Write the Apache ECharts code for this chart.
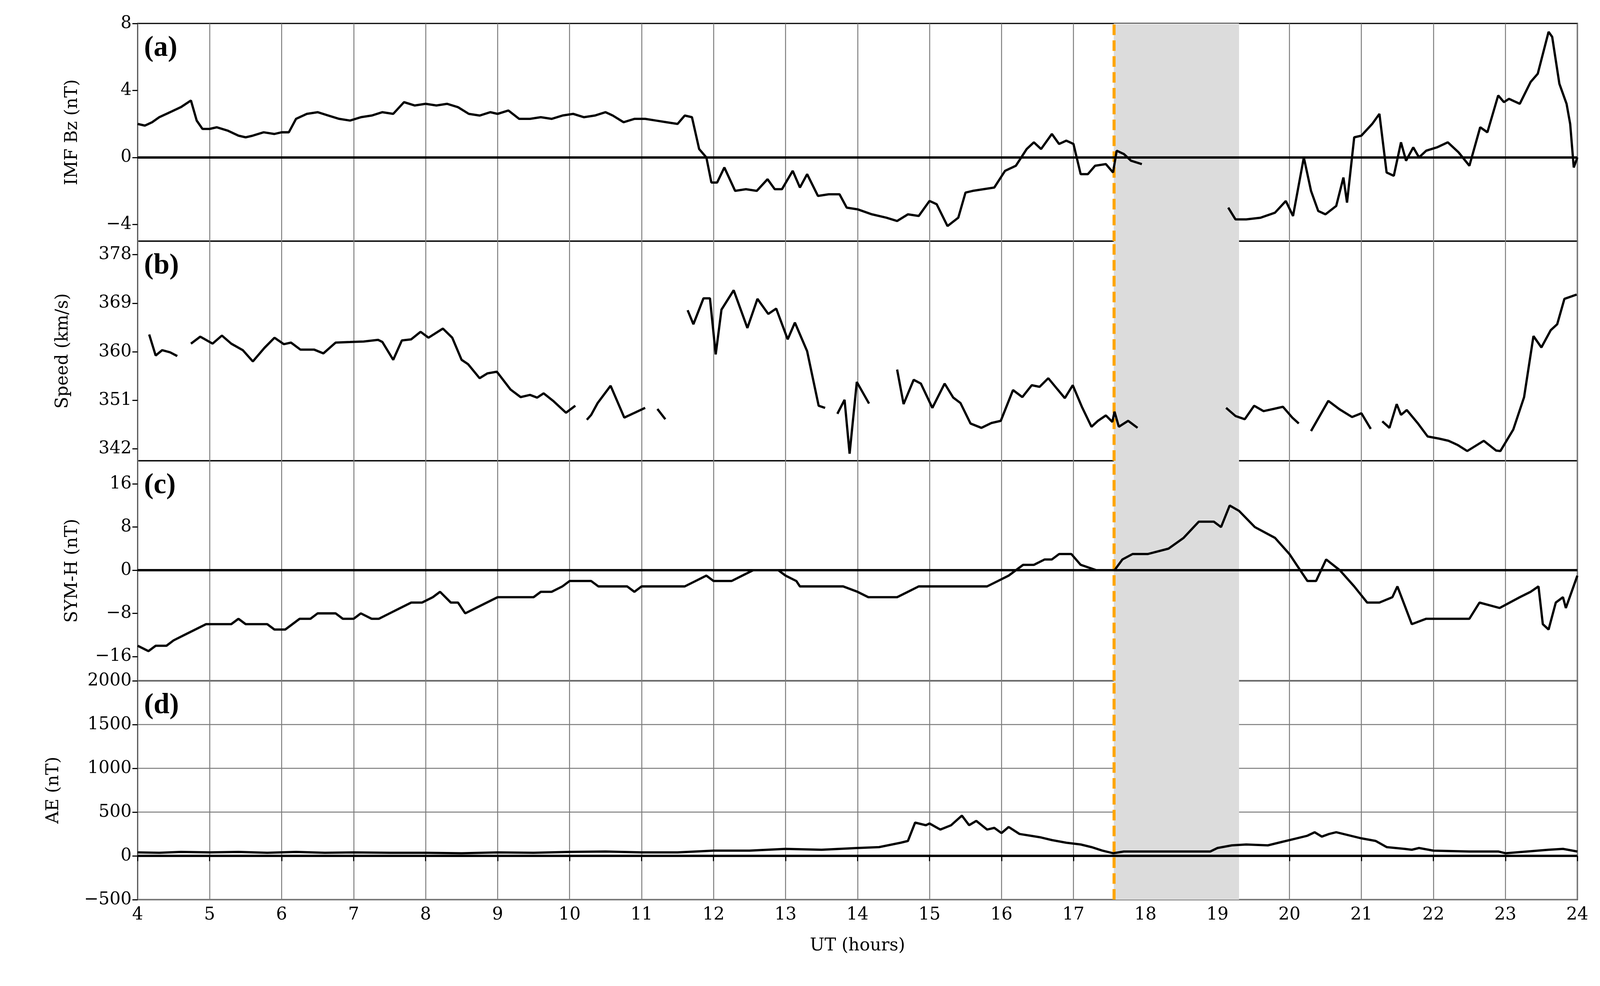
<!DOCTYPE html>
<html><head><meta charset="utf-8">
<script src="https://cdn.jsdelivr.net/npm/echarts@6/dist/echarts.min.js"></script>
<style>html,body{margin:0;padding:0;background:#fff;overflow:hidden}#c{width:100vw;height:100vh}</style>
</head><body><div id="c"></div>
<script>
// ---- data (hours UT, null = data gap) ----
const bzT = [4.0,4.1,4.2,4.3,4.45,4.6,4.74,4.82,4.9,5.0,5.1,5.25,5.4,5.5,5.6,5.75,5.9,6.0,6.1,6.2,6.35,6.5,6.65,6.8,6.95,7.1,7.25,7.4,7.55,7.7,7.85,8.0,8.15,8.3,8.45,8.6,8.75,8.9,9.0,9.15,9.3,9.45,9.6,9.75,9.9,10.05,10.2,10.35,10.5,10.6,10.75,10.9,11.05,11.2,11.35,11.5,11.6,11.7,11.8,11.9,11.97,12.05,12.15,12.3,12.45,12.6,12.75,12.85,12.95,13.1,13.2,13.3,13.45,13.6,13.75,13.85,14.0,14.2,14.4,14.55,14.7,14.85,15.0,15.1,15.25,15.4,15.5,15.6,15.75,15.9,16.05,16.2,16.35,16.45,16.55,16.7,16.8,16.9,17.0,17.1,17.2,17.3,17.45,17.55,17.6,17.7,17.8,17.95,18.0,
19.15,19.25,19.4,19.6,19.8,19.95,20.05,20.2,20.3,20.4,20.5,20.65,20.75,20.8,20.9,21.0,21.15,21.25,21.35,21.45,21.55,21.62,21.72,21.8,21.9,22.05,22.2,22.35,22.5,22.65,22.75,22.9,22.98,23.05,23.2,23.35,23.45,23.6,23.65,23.75,23.85,23.9,23.95,24.0];
const bzV = [2.0,1.9,2.1,2.4,2.7,3.0,3.4,2.2,1.7,1.7,1.8,1.6,1.3,1.2,1.3,1.5,1.4,1.5,1.5,2.3,2.6,2.7,2.5,2.3,2.2,2.4,2.5,2.7,2.6,3.3,3.1,3.2,3.1,3.2,3.0,2.6,2.5,2.7,2.6,2.8,2.3,2.3,2.4,2.3,2.5,2.6,2.4,2.5,2.7,2.5,2.1,2.3,2.3,2.2,2.1,2.0,2.5,2.4,0.5,0.0,-1.5,-1.5,-0.6,-2.0,-1.9,-2.0,-1.3,-1.9,-1.9,-0.8,-1.8,-1.0,-2.3,-2.2,-2.2,-3.0,-3.1,-3.4,-3.6,-3.8,-3.4,-3.5,-2.6,-2.8,-4.1,-3.6,-2.1,-2.0,-1.9,-1.8,-0.8,-0.5,0.5,0.9,0.5,1.4,0.8,1.0,0.8,-1.0,-1.0,-0.5,-0.4,-0.9,0.4,0.2,-0.2,-0.4,null,
-3.0,-3.7,-3.7,-3.6,-3.3,-2.6,-3.5,0.0,-2.0,-3.2,-3.4,-2.9,-1.2,-2.7,1.2,1.3,2.0,2.6,-0.9,-1.1,0.9,-0.2,0.6,0.0,0.4,0.6,0.9,0.3,-0.5,1.8,1.5,3.7,3.3,3.5,3.2,4.5,5.0,7.5,7.2,4.4,3.2,2.0,-0.6,0.0];

const vT = [4.16,4.25,4.34,4.45,4.55,4.65,4.74,4.87,5.04,5.17,5.3,5.46,5.6,5.76,5.9,6.03,6.13,6.26,6.45,6.58,6.75,6.95,7.14,7.34,7.4,7.55,7.67,7.8,7.93,8.04,8.24,8.37,8.5,8.59,8.75,8.86,8.99,9.18,9.32,9.45,9.55,9.64,9.78,9.95,10.08,10.16,
10.24,10.3,10.39,10.57,10.76,10.89,11.05,11.13,11.22,11.33,11.5,
11.64,11.72,11.86,11.95,12.03,12.11,12.28,12.47,12.61,12.76,12.87,13.03,13.13,13.3,13.46,13.55,13.63,
13.72,13.82,13.89,13.99,14.16,14.35,
14.55,14.64,14.78,14.88,15.04,15.21,15.33,15.43,15.57,15.72,15.86,15.99,16.16,16.29,16.42,16.53,16.65,16.78,16.88,16.99,17.12,17.25,17.34,17.45,17.54,17.57,17.63,17.76,17.89,18.5,
19.12,19.25,19.38,19.51,19.64,19.78,19.91,20.04,20.13,20.2,
20.3,20.54,20.7,20.87,21.0,21.13,21.2,
21.29,21.39,21.49,21.55,21.63,21.78,21.92,22.08,22.21,22.34,22.47,22.7,22.87,22.93,23.11,23.26,23.39,23.5,23.63,23.72,23.82,23.99];
const vV = [363.2,359.3,360.3,359.9,359.2,null,
361.5,362.8,361.5,363.0,361.5,360.3,358.2,360.7,362.6,361.4,361.7,360.4,360.4,359.7,361.7,361.8,361.9,362.2,361.8,358.5,362.1,362.3,363.7,362.6,364.3,362.6,358.5,357.7,355.1,356.0,356.3,353.0,351.6,352.0,351.5,352.3,350.8,348.7,350.0,null,
347.4,348.3,350.5,353.7,347.8,348.6,349.6,null,349.4,347.5,null,
367.7,365.1,369.9,369.9,359.5,367.8,371.4,364.4,369.8,367.0,368.0,362.3,365.4,360.1,350.0,349.6,null,
348.5,351.1,341.1,354.4,350.4,null,
356.7,350.3,354.8,354.1,349.6,354.1,351.5,350.5,346.7,345.9,346.8,347.2,352.9,351.6,353.8,353.5,355.1,353.0,351.4,353.8,349.7,346.1,347.2,348.2,347.0,348.9,346.1,347.2,345.9,null,
349.6,348.1,347.5,350.0,349.0,349.4,349.8,347.8,346.7,null,
345.3,350.9,349.3,347.9,348.6,345.7,null,
347.1,345.9,350.3,348.3,349.2,346.8,344.3,343.9,343.5,342.7,341.6,343.5,341.7,341.6,345.6,351.6,362.9,360.8,364.0,365.1,369.8,370.6];

const symT = [4.0,4.15,4.25,4.4,4.5,4.65,4.8,4.95,5.1,5.3,5.4,5.5,5.8,5.9,6.05,6.15,6.25,6.4,6.5,6.75,6.85,7.0,7.1,7.25,7.35,7.5,7.65,7.8,7.95,8.1,8.2,8.35,8.45,8.55,8.7,8.85,9.0,9.5,9.6,9.75,9.9,10.0,10.3,10.4,10.8,10.9,11.0,11.6,11.75,11.9,12.0,12.25,12.4,12.55,12.9,13.0,13.15,13.2,13.8,14.0,14.15,14.55,14.7,14.85,15.8,15.95,16.1,16.2,16.3,16.45,16.6,16.7,16.8,16.97,17.1,17.32,17.57,17.68,17.82,18.03,18.32,18.53,18.74,18.95,19.05,19.17,19.3,19.52,19.8,20.0,20.1,20.25,20.37,20.51,20.7,20.9,21.08,21.25,21.43,21.5,21.7,21.9,22.2,22.5,22.64,22.92,23.2,23.35,23.46,23.52,23.6,23.7,23.8,23.84,24.0];
const symV = [-14,-15,-14,-14,-13,-12,-11,-10,-10,-10,-9,-10,-10,-11,-11,-10,-9,-9,-8,-8,-9,-9,-8,-9,-9,-8,-7,-6,-6,-5,-4,-6,-6,-8,-7,-6,-5,-5,-4,-4,-3,-2,-2,-3,-3,-4,-3,-3,-2,-1,-2,-2,-1,0,0,-1,-2,-3,-3,-4,-5,-5,-4,-3,-3,-2,-1,0,1,1,2,2,3,3,1,0,0,2,3,3,4,6,9,9,8,12,11,8,6,3,1,-2,-2,2,0,-3,-6,-6,-5,-3,-10,-9,-9,-9,-6,-7,-5,-4,-3,-10,-11,-6,-5,-7,-1];

const aeT = [4.0,4.3,4.6,5.0,5.4,5.8,6.2,6.6,7.0,7.5,8.0,8.5,9.0,9.5,10.0,10.5,11.0,11.5,12.0,12.5,13.0,13.5,14.0,14.3,14.6,14.7,14.8,14.95,15.0,15.15,15.3,15.45,15.55,15.65,15.8,15.9,16.0,16.1,16.25,16.4,16.55,16.7,16.9,17.1,17.25,17.4,17.55,17.7,18.0,18.5,18.9,19.0,19.2,19.4,19.7,19.9,20.1,20.25,20.35,20.45,20.55,20.65,20.85,21.0,21.2,21.35,21.6,21.7,21.8,22.0,22.5,22.9,23.0,23.3,23.6,23.8,24.0];
const aeV = [40,35,45,40,45,35,45,35,40,35,35,30,40,35,45,50,40,40,60,60,80,70,90,100,150,170,380,350,370,300,350,460,350,400,300,320,260,330,250,230,210,180,150,130,100,60,30,50,50,50,50,90,120,130,120,160,200,230,270,220,250,270,230,200,170,100,80,70,90,60,50,50,30,50,70,80,50];

const xTicks = [4,5,6,7,8,9,10,11,12,13,14,15,16,17,18,19,20,21,22,23,24];
const bzTicks = [-4,0,4,8];
const vTicks = [342,351,360,369,378];
const symTicks = [-16,-8,0,8,16];
const aeTicks = [-500,0,500,1000,1500,2000];
const panelLabels = ['(a)','(b)','(c)','(d)'];
const yNames = ['IMF Bz (nT)','Speed (km/s)','SYM-H (nT)','AE (nT)'];
const onsetT = 17.56, shadeEnd = 19.3;

// ---- chart ----
const el = document.getElementById('c');
const W = el.clientWidth || window.innerWidth, H = el.clientHeight || window.innerHeight;
const sx = W/4242, sy = H/2523, s = Math.min(sx, sy);
const zip = (t,v)=>t.map((x,i)=>[x, v[i]===null? null : v[i]]);
const fmt = v => v<0 ? '\u2212'+Math.abs(v) : String(v);
const tops=[60,617,1179,1742], bots=[617,1179,1742,2302];
const grids = tops.map((t,i)=>({left:365*sx,right:60*sx,top:t*sy,height:(bots[i]-t)*sy,show:true,borderColor:'#000',borderWidth:3*s,backgroundColor:'transparent'}));
const txt = {fontFamily:'DejaVu Serif',fontSize:46*s,color:'#000'};
const xAxes = grids.map((g,i)=>({type:'value',gridIndex:i,min:4,max:24,interval:1,
  axisLine:{show:false},
  axisTick:{show:i===3,length:14*s,lineStyle:{color:'#000',width:3*s}},
  axisLabel:{show:i===3,...txt,margin:18*s},
  splitLine:{show:true,lineStyle:{color:'#7a7a7a',width:2.5*s}},
  name:i===3?'UT (hours)':'',nameLocation:'middle',nameGap:100*s,nameTextStyle:txt}));
const yDefs=[{min:-5,max:8,ticks:bzTicks},{min:339.8,max:380.5,ticks:vTicks},{min:-20.5,max:20.3,ticks:symTicks},{min:-500,max:2000,ticks:aeTicks}];
const yAxes = yDefs.map((d,i)=>({type:'value',gridIndex:i,min:d.min,max:d.max,
  interval: i===3?500:undefined,
  axisLine:{show:false},
  axisTick:{show:true,length:14*s,lineStyle:{color:'#000',width:3*s},customValues:i===3?undefined:d.ticks},
  axisLabel:{...txt,margin:16*s,formatter:fmt,customValues:i===3?undefined:d.ticks,showMinLabel:true,showMaxLabel:true},
  splitLine:{show:i===3,lineStyle:{color:'#7a7a7a',width:2.5*s}},
  name:yNames[i],nameLocation:'middle',nameGap:(i===3?200:(i===1?175:150))*s,nameRotate:90,nameTextStyle:txt}));
const datas=[zip(bzT,bzV),zip(vT,vV),zip(symT,symV),zip(aeT,aeV)];
const series = datas.map((d,i)=>({type:'line',xAxisIndex:i,yAxisIndex:i,data:d,showSymbol:false,connectNulls:false,
  lineStyle:{color:'#000',width:6*s},z:5,animation:false,
  markArea:{silent:true,itemStyle:{color:'#dcdcdc'},data:[[{xAxis:onsetT},{xAxis:shadeEnd}]]},
  markLine:{silent:true,symbol:'none',animation:false,label:{show:false},
    data:[{xAxis:onsetT,lineStyle:{color:'#ffa500',type:[28*s,14*s],width:8*s}}].concat(i===1?[]:[{yAxis:0,lineStyle:{color:'#000',type:'solid',width:6*s}}])}
}));
const graphics = panelLabels.map((t,i)=>({type:'text',left:382*sx,top:(tops[i]+28)*sy,style:{text:t,font:'bold '+Math.round(76*s)+'px "Liberation Serif"',fill:'#000'},z:20}));
const chart = echarts.init(el,null,{renderer:'canvas'});
chart.setOption({animation:false,backgroundColor:'#fff',grid:grids,xAxis:xAxes,yAxis:yAxes,series,graphic:graphics});
</script></body></html>
